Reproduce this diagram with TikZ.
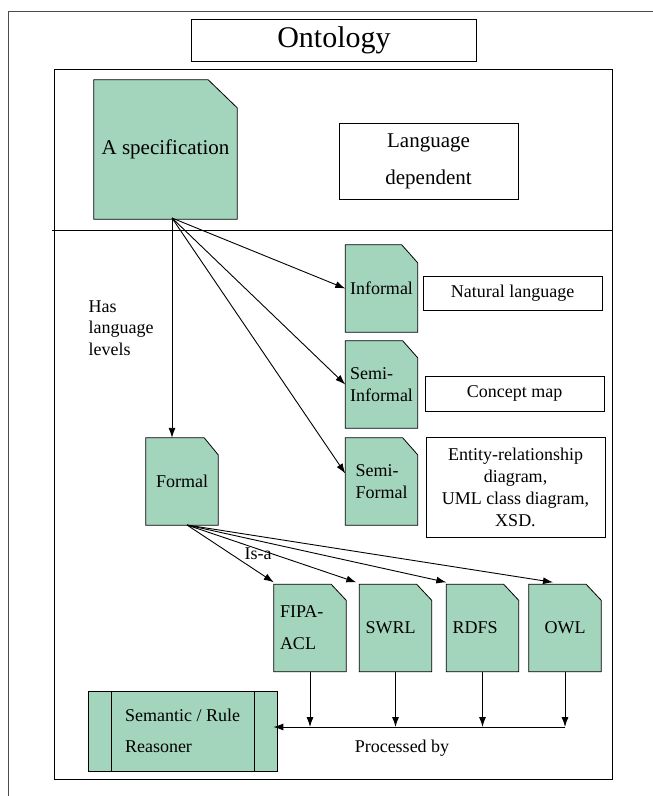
\documentclass[tikz,border=0pt]{standalone}
\usepackage{fontspec}
\setmainfont{Liberation Serif}
\usetikzlibrary{arrows.meta}

\definecolor{notegreen}{RGB}{163,212,188}

\pgfdeclarelayer{background}
\pgfsetlayers{background,main}

\tikzset{
  docnote/.style={inner sep=0pt, minimum width=72pt, minimum height=87pt,
    font=\fontsize{18}{22}\selectfont, align=left},
  langnote/.style={docnote, text width=60pt, font=\fontsize{18}{32}\selectfont},
  txtbox/.style={draw, line width=0.8pt, inner sep=0pt, minimum width=179pt,
    font=\fontsize{18}{22}\selectfont, align=center},
  link/.style={line width=0.9pt, -{Latex[length=10pt,width=7pt]}}
}

\begin{document}
\begin{tikzpicture}[x=1pt,y=-1pt]
  \useasboundingbox (0,0) rectangle (653,796);
  % frames
  \draw[line width=1pt, black!70] (8,796) |- (653,11);
  \draw[line width=0.8pt] (54,69) rectangle (612,779);
  \draw[line width=0.8pt] (52,230) -- (612,230);
  \node[draw, line width=0.8pt, minimum width=285pt, minimum height=42pt, inner sep=0pt,
    font=\fontsize{30}{36}\selectfont] (title) at (334,40) {Ontology};

  % specification part
  \node[docnote, minimum width=143pt, minimum height=139pt, font=\fontsize{21}{25}\selectfont]
    (spec) at (165.5,149.5) {A specification};
  \node[txtbox, minimum height=76pt, font=\fontsize{21}{37}\selectfont]
    (langdep) at (428.5,161) {Language\\dependent};

  % language levels
  \node[docnote] (informal) at (381.5,288.5) {Informal};
  \node[docnote] (semiinf) at (381.5,384.5) {Semi-\\Informal};
  \node[docnote] (semiform) at (381.5,481.5) {Semi-\\Formal};
  \node[docnote] (formal) at (182,481.5) {Formal};
  \node[txtbox, minimum height=34pt] (natlang) at (512.5,293) {Natural language};
  \node[txtbox, minimum height=35pt] (concept) at (514.5,393.5) {Concept map};
  \node[txtbox, minimum height=100pt] (erd) at (515.5,487)
    {Entity-relationship\\diagram,\\UML class diagram,\\XSD.};
  \node[font=\fontsize{18}{21.5}\selectfont, align=left, anchor=west]
    (haslevels) at (85,328) {Has\\language\\levels};

  \coordinate (specfoot) at (172,218);
  \draw[link] (specfoot) -- (specfoot |- formal.north);
  \draw[link] (specfoot) -- (informal.west);
  \draw[link] (specfoot) -- (semiinf.west);
  \draw[link] (specfoot) -- ([yshift=8pt]semiform.west);

  % formal languages
  \node[langnote] (fipa) at (310,628) {FIPA-\\ACL};
  \node[langnote] (swrl) at (395.5,628) {SWRL};
  \node[langnote] (rdfs) at (482.5,628) {RDFS};
  \node[docnote, align=center] (owl) at (565,628) {OWL};
  \node[font=\fontsize{18}{22}\selectfont] (isa) at (258,554) {Is-a};

  \coordinate (formalfoot) at (187,525);
  \draw[link] (formalfoot) -- ([yshift=2pt]fipa.north west);
  \draw[link] (formalfoot) -- ([yshift=2pt,xshift=-3pt]swrl.north west);
  \draw[link] (formalfoot) -- ([yshift=2pt]rdfs.north west);
  \draw[link] (formalfoot) -- ([yshift=2pt,xshift=-12pt]owl.north);

  % reasoner
  \node[draw, fill=notegreen, line width=0.8pt, minimum width=189pt, minimum height=80pt,
    inner sep=0pt, align=left, font=\fontsize{18}{31}\selectfont]
    (reasoner) at (182.5,731) {Semantic / Rule\\Reasoner};
  \draw[line width=0.8pt] ([xshift=24pt]reasoner.north west) -- ([xshift=24pt]reasoner.south west);
  \draw[line width=0.8pt] ([xshift=-23pt]reasoner.north east) -- ([xshift=-23pt]reasoner.south east);

  \coordinate (bus) at (564,727);
  \foreach \lang in {fipa,swrl,rdfs,owl}
    \draw[link] (\lang.south) -- (\lang.south |- bus);
  \draw[link, shorten >=-4pt] (owl.south |- bus) -- (reasoner.east |- bus);
  \node[font=\fontsize{18}{22}\selectfont] (procby) at (402,748) {Processed by};

  % dog-eared note shapes behind the texts
  \begin{pgfonlayer}{background}
    \foreach \n/\cx/\cy in {spec/29/28,informal/16/18,semiinf/15/17,semiform/15/17,
        formal/14/17,fipa/15/16,swrl/15/16,rdfs/15/16,owl/15/16}
      \filldraw[fill=notegreen, line width=0.8pt] (\n.south west) -- (\n.north west)
        -- ([xshift=-\cx pt]\n.north east) -- ([yshift=-\cy pt]\n.north east)
        -- (\n.south east) -- cycle;
  \end{pgfonlayer}
\end{tikzpicture}
\end{document}
